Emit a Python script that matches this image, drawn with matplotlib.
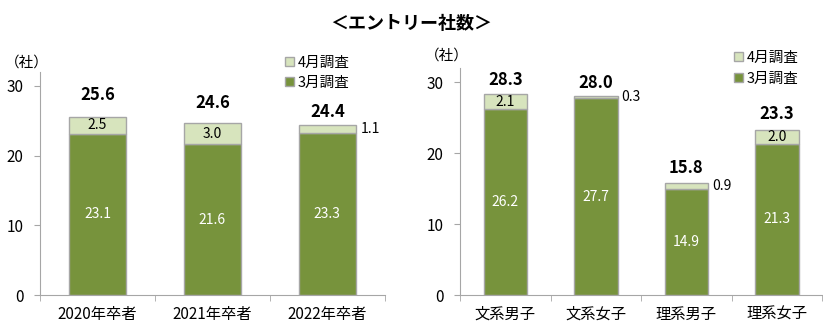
import matplotlib.pyplot as plt
from matplotlib.patches import Patch
import numpy as np

plt.rcParams['font.family'] = ['Noto Sans CJK JP', 'DejaVu Sans']

# 卒業年別
years = ['2020年卒者', '2021年卒者', '2022年卒者']
year_march = [23.1, 21.6, 23.3]
year_april = [2.5, 3.0, 1.1]
year_total = [25.6, 24.6, 24.4]

# 文理・男女別
groups = ['文系男子', '文系女子', '理系男子', '理系女子']
group_march = [26.2, 27.7, 14.9, 21.3]
group_april = [2.1, 0.3, 0.9, 2.0]
group_total = [28.3, 28.0, 15.8, 23.3]

dark_green = '#77933C'
light_green = '#D7E4BD'
edge = '#A6A6A6'


def draw(ax, cats, march, april, total, width, offsets):
    x = np.arange(len(cats))
    ax.bar(x, march, width, color=dark_green, edgecolor=edge, linewidth=1, label='3月調査')
    ax.bar(x, april, width, bottom=march, color=light_green, edgecolor=edge, linewidth=1, label='4月調査')
    for i in range(len(cats)):
        ax.text(x[i], march[i] / 2, f'{march[i]:.1f}', ha='center', va='center',
                color='white', fontsize=10)
        if april[i] >= 1.5:
            ax.text(x[i], march[i] + april[i] / 2, f'{april[i]:.1f}', ha='center',
                    va='center', color='black', fontsize=10)
        else:
            # 薄い部分は棒の右側に表示
            ax.annotate(f'{april[i]:.1f}', (x[i] + width / 2, march[i] + april[i] / 2),
                        xytext=(3, 0), textcoords='offset points', ha='left',
                        va='center', fontsize=10)
        ax.annotate(f'{total[i]:.1f}', (x[i], total[i]), xytext=(0, offsets[i]),
                    textcoords='offset points', ha='center', va='bottom',
                    fontsize=12, fontweight='bold')
    ax.set_xlim(-0.5, len(cats) - 0.5)
    ax.set_ylim(0, 32)
    ax.set_yticks([0, 10, 20, 30])
    ax.set_xticks(x)
    ax.set_xticklabels(cats, fontsize=11)
    ax.set_xticks(np.arange(len(cats) + 1) - 0.5, minor=True)
    ax.tick_params(axis='x', which='major', length=0, pad=8)
    ax.tick_params(axis='x', which='minor', length=4, color=edge)
    ax.tick_params(axis='y', length=4, color=edge, labelsize=11, pad=8)
    for s in ['top', 'right']:
        ax.spines[s].set_visible(False)
    for s in ['left', 'bottom']:
        ax.spines[s].set_color(edge)
    handles = [Patch(facecolor=light_green, edgecolor=edge, label='4月調査'),
               Patch(facecolor=dark_green, edgecolor=edge, label='3月調査')]
    return handles


fig = plt.figure(figsize=(8.23, 3.36), dpi=100)
ax1 = fig.add_axes([0.0486, 0.122, 0.419, 0.664])
ax2 = fig.add_axes([0.559, 0.122, 0.44, 0.676])

h1 = draw(ax1, years, year_march, year_april, year_total, 0.5, [9, 8, 3])
h2 = draw(ax2, groups, group_march, group_april, group_total, 0.48, [4, 3, 4, 5])

leg_kw = dict(frameon=False, handlelength=0.6, handleheight=0.6, handletextpad=0.25,
              labelspacing=0.45, fontsize=10.5, borderaxespad=0)
ax1.legend(handles=h1, loc='upper left', bbox_to_anchor=(0.695, 1.1), **leg_kw)
ax2.legend(handles=h2, loc='upper left', bbox_to_anchor=(0.74, 1.1), **leg_kw)

fig.text(0.033, 0.815, '（社）', fontsize=10.5, ha='center', va='center')
fig.text(0.543, 0.835, '（社）', fontsize=10.5, ha='center', va='center')
fig.text(0.5, 0.93, '＜エントリー社数＞', fontsize=13, fontweight='bold',
         ha='center', va='center')

fig.savefig('out.png', dpi=100)
